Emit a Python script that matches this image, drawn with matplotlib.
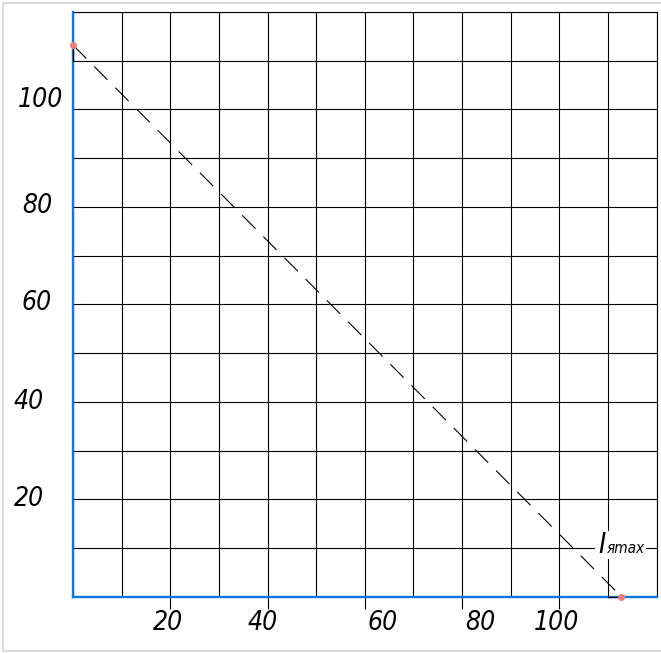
import matplotlib.pyplot as plt
from matplotlib.patches import Rectangle

# chart values
x_ticks = [20, 40, 60, 80, 100]
y_ticks = [20, 40, 60, 80, 100]
x_tick_labels = ['20', '40', '60', '80', '100']
y_tick_labels = ['20', '40', '60', '80', '100']
grid_step = 10
axis_max = 120
line_x = [0, 112.8]
line_y = [113.2, 0]
label_main = 'I'
label_sub = 'яmax'

# hand-placed label offsets (pixels) as in the drawing
x_label_dx = [-2, -5, 18, 18, -3]
y_label_dx = [-44, -44, -36, -36, -32]
y_label_dy = [0, 0, 1, 1, 9]

FONT = dict(family='DejaVu Sans', style='oblique', stretch='condensed')
BLUE = '#0b78e3'
DOT = '#f07878'

fig = plt.figure(figsize=(6.61, 6.53), dpi=100)
ax = fig.add_axes([73 / 661, (653 - 596.7) / 653, 583.5 / 661, 584.7 / 653])

ax.set_xlim(0, axis_max)
ax.set_ylim(0, axis_max)
ticks = list(range(0, axis_max + 1, grid_step))
ax.set_xticks(ticks, minor=True)
ax.set_yticks(ticks, minor=True)
ax.set_xticks(x_ticks)
ax.set_yticks(y_ticks)
ax.set_xticklabels([])
ax.set_yticklabels([])
ax.grid(True, which='both', color='black', lw=0.8)
ax.set_axisbelow(True)
ax.tick_params(axis='x', which='major', length=8.5, width=0.8, color='black', direction='out')
ax.tick_params(axis='x', which='minor', length=0)
ax.tick_params(axis='y', which='both', length=0)

for side in ['top', 'right']:
    ax.spines[side].set_color('black')
    ax.spines[side].set_linewidth(0.8)
for side in ['left', 'bottom']:
    ax.spines[side].set_color(BLUE)
    ax.spines[side].set_linewidth(1.7)
    ax.spines[side].set_zorder(3)

# dashed line between the intercepts
ax.plot(line_x, line_y, color='black', lw=0.8, linestyle=(0, (17, 10)), zorder=4)
# short projections to the nearest grid line
ax.plot([0, 0], [line_y[0] - line_y[0] % grid_step, line_y[0]], color='black', lw=0.9,
        zorder=5, clip_on=False)
ax.plot([line_x[1] - line_x[1] % grid_step, line_x[1]], [0, 0], color='black', lw=0.9,
        zorder=5, clip_on=False)
ax.plot(line_x, line_y, 'o', color=DOT, ms=4, zorder=6, clip_on=False)

# tick labels
for v, lab, dx in zip(x_ticks, x_tick_labels, x_label_dx):
    ax.annotate(lab, xy=(v, 0), xycoords=('data', 'axes fraction'),
                xytext=(dx, -26), textcoords='offset pixels', ha='center', va='center',
                fontsize=19, annotation_clip=False, **FONT)
for v, lab, dx, dy in zip(y_ticks, y_tick_labels, y_label_dx, y_label_dy):
    ax.annotate(lab, xy=(0, v), xycoords=('axes fraction', 'data'),
                xytext=(dx, dy), textcoords='offset pixels', ha='center', va='center',
                fontsize=19, annotation_clip=False, **FONT)

# line label with white background
ax.add_patch(Rectangle((107.4, 7.8), 10.5, 5.7, facecolor='white', edgecolor='none', zorder=3))
ax.annotate(label_main, xy=(110, 10), xytext=(-6, -5), textcoords='offset pixels',
            ha='center', va='baseline', fontsize=20, zorder=7, **FONT)
ax.annotate(label_sub, xy=(110, 10), xytext=(-1, -5), textcoords='offset pixels',
            ha='left', va='baseline', fontsize=11, zorder=7, **FONT)

# light frame round the picture
fig.add_artist(Rectangle((2.5 / 661, 2.5 / 653), 1.0, 648 / 653, transform=fig.transFigure,
                         fill=False, edgecolor='#d4d4d4', lw=1.2))

fig.savefig('out.png', dpi=100)
